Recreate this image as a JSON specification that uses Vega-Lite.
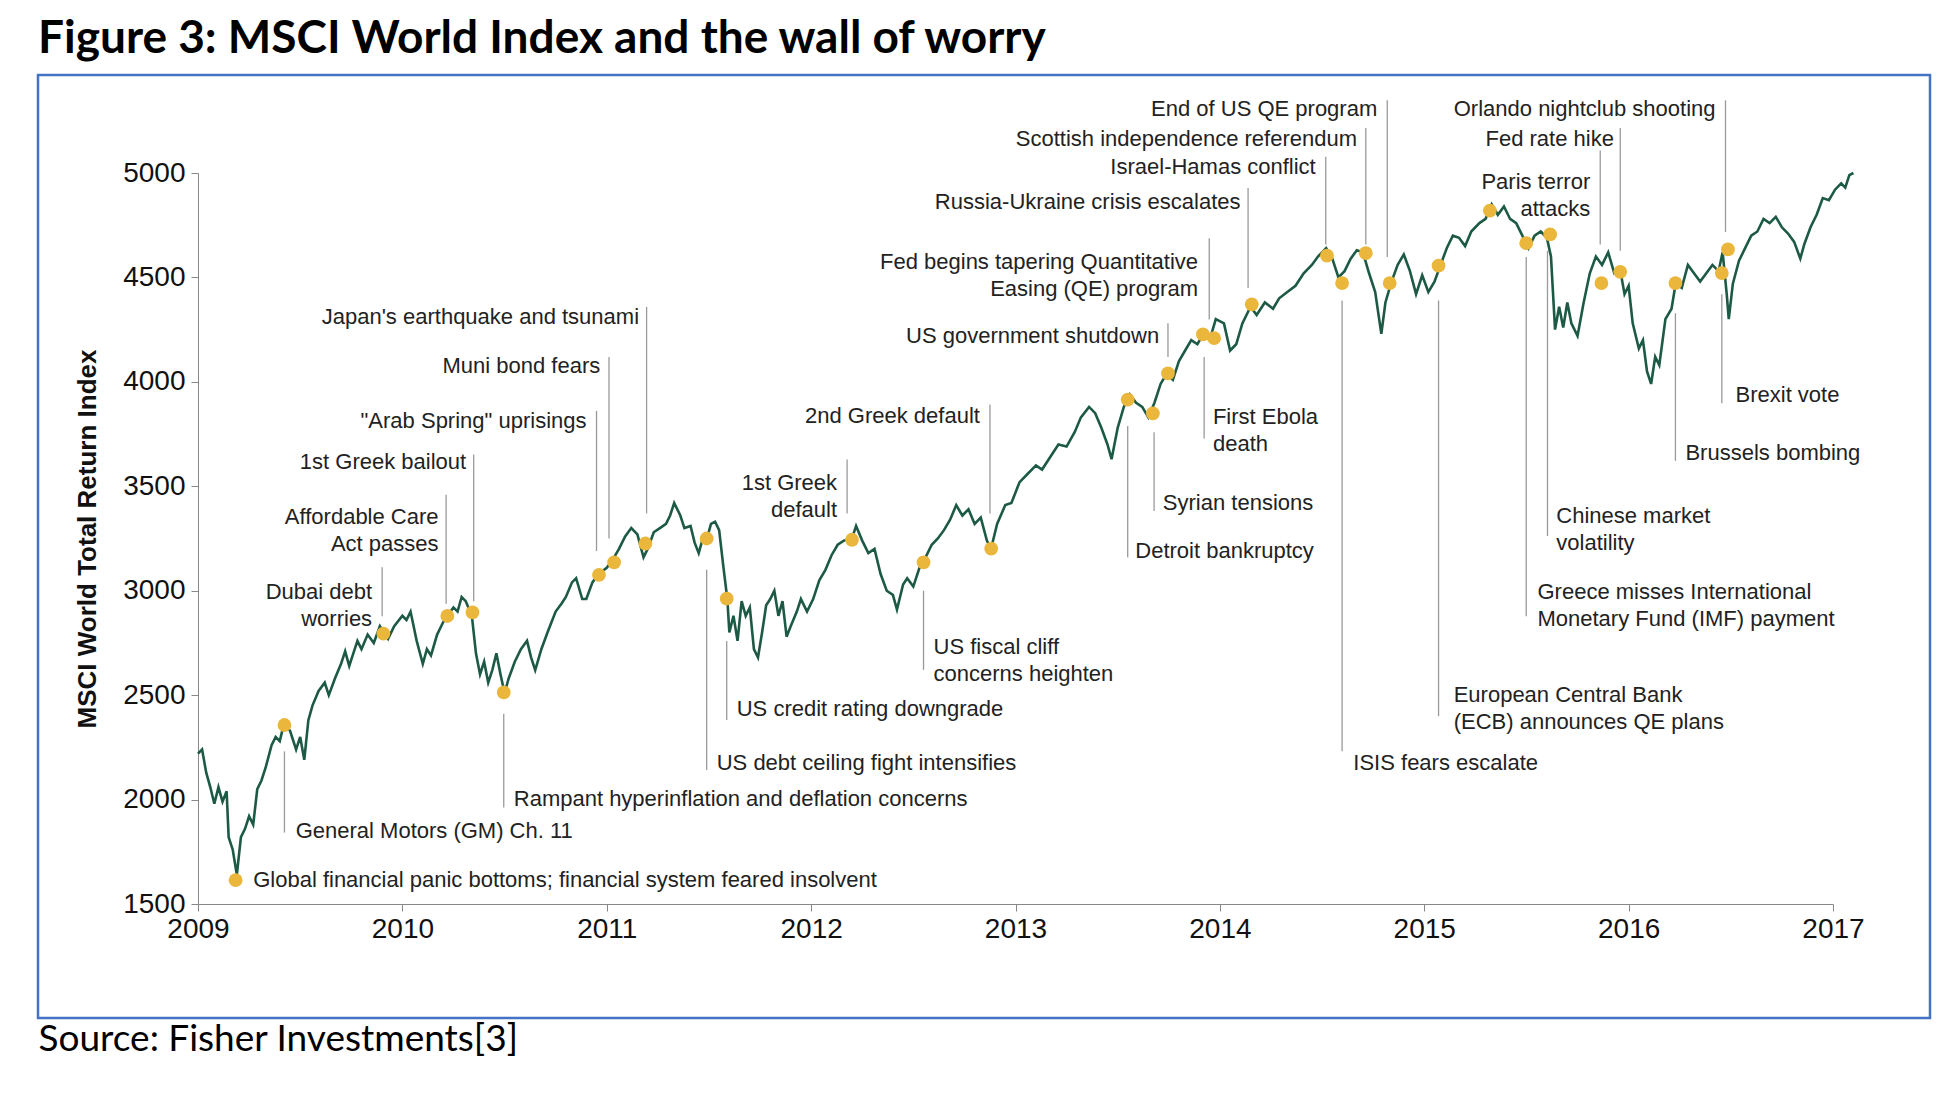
{
  "$schema": "https://vega.github.io/schema/vega-lite/v6.json",
  "width": 1892,
  "height": 943,
  "autosize": "none",
  "padding": {"left": 38, "top": 75, "right": 24, "bottom": 81},
  "background": "white",
  "title": {
    "text": "Figure 3: MSCI World Index and the wall of worry",
    "anchor": "start",
    "frame": "group",
    "offset": 12,
    "font": "Lato",
    "fontSize": 46,
    "fontWeight": "bold",
    "color": "#000000"
  },
  "config": {
    "view": {"stroke": "#4472c4", "strokeWidth": 2.5},
    "axis": {"grid": false, "domainColor": "#888888", "tickColor": "#888888", "labelFont": "Liberation Sans", "labelFontSize": 28, "labelColor": "#111111", "labelFlush": false}
  },
  "datasets": {
    "index": [
      {"t": 2009.00, "v": 2220}, {"t": 2009.02, "v": 2240}, {"t": 2009.04, "v": 2130}, {"t": 2009.06, "v": 2060}, {"t": 2009.08, "v": 1980}, {"t": 2009.10, "v": 2060},
      {"t": 2009.12, "v": 1990}, {"t": 2009.14, "v": 2040}, {"t": 2009.15, "v": 1820}, {"t": 2009.17, "v": 1760}, {"t": 2009.19, "v": 1640}, {"t": 2009.21, "v": 1820},
      {"t": 2009.23, "v": 1860}, {"t": 2009.25, "v": 1920}, {"t": 2009.27, "v": 1880}, {"t": 2009.29, "v": 2050}, {"t": 2009.31, "v": 2090}, {"t": 2009.33, "v": 2150},
      {"t": 2009.36, "v": 2260}, {"t": 2009.38, "v": 2300}, {"t": 2009.40, "v": 2280}, {"t": 2009.42, "v": 2360}, {"t": 2009.45, "v": 2330}, {"t": 2009.48, "v": 2240},
      {"t": 2009.50, "v": 2300}, {"t": 2009.52, "v": 2190}, {"t": 2009.54, "v": 2380}, {"t": 2009.56, "v": 2450}, {"t": 2009.59, "v": 2520}, {"t": 2009.62, "v": 2560},
      {"t": 2009.64, "v": 2500}, {"t": 2009.67, "v": 2580}, {"t": 2009.70, "v": 2650}, {"t": 2009.72, "v": 2710}, {"t": 2009.74, "v": 2640}, {"t": 2009.76, "v": 2700},
      {"t": 2009.78, "v": 2760}, {"t": 2009.80, "v": 2720}, {"t": 2009.83, "v": 2790}, {"t": 2009.86, "v": 2750}, {"t": 2009.89, "v": 2830}, {"t": 2009.91, "v": 2800},
      {"t": 2009.93, "v": 2770}, {"t": 2009.96, "v": 2830}, {"t": 2010.00, "v": 2880}, {"t": 2010.02, "v": 2860}, {"t": 2010.04, "v": 2900}, {"t": 2010.07, "v": 2760},
      {"t": 2010.10, "v": 2650}, {"t": 2010.12, "v": 2720}, {"t": 2010.14, "v": 2690}, {"t": 2010.17, "v": 2790}, {"t": 2010.20, "v": 2850}, {"t": 2010.22, "v": 2880},
      {"t": 2010.25, "v": 2920}, {"t": 2010.27, "v": 2900}, {"t": 2010.29, "v": 2970}, {"t": 2010.31, "v": 2950}, {"t": 2010.34, "v": 2880}, {"t": 2010.36, "v": 2700},
      {"t": 2010.38, "v": 2600}, {"t": 2010.40, "v": 2660}, {"t": 2010.42, "v": 2560}, {"t": 2010.44, "v": 2620}, {"t": 2010.46, "v": 2700}, {"t": 2010.48, "v": 2600},
      {"t": 2010.50, "v": 2510}, {"t": 2010.52, "v": 2580}, {"t": 2010.55, "v": 2660}, {"t": 2010.58, "v": 2720}, {"t": 2010.61, "v": 2760}, {"t": 2010.63, "v": 2680},
      {"t": 2010.65, "v": 2620}, {"t": 2010.68, "v": 2720}, {"t": 2010.71, "v": 2800}, {"t": 2010.73, "v": 2850}, {"t": 2010.75, "v": 2900}, {"t": 2010.78, "v": 2940},
      {"t": 2010.80, "v": 2970}, {"t": 2010.83, "v": 3040}, {"t": 2010.85, "v": 3060}, {"t": 2010.88, "v": 2960}, {"t": 2010.90, "v": 2960}, {"t": 2010.93, "v": 3040},
      {"t": 2010.96, "v": 3080}, {"t": 2011.00, "v": 3110}, {"t": 2011.03, "v": 3150}, {"t": 2011.06, "v": 3200}, {"t": 2011.09, "v": 3260}, {"t": 2011.12, "v": 3300},
      {"t": 2011.15, "v": 3270}, {"t": 2011.18, "v": 3160}, {"t": 2011.20, "v": 3200}, {"t": 2011.23, "v": 3280}, {"t": 2011.26, "v": 3300}, {"t": 2011.29, "v": 3320},
      {"t": 2011.31, "v": 3360}, {"t": 2011.33, "v": 3420}, {"t": 2011.36, "v": 3360}, {"t": 2011.38, "v": 3300}, {"t": 2011.41, "v": 3310}, {"t": 2011.43, "v": 3230},
      {"t": 2011.45, "v": 3180}, {"t": 2011.47, "v": 3250}, {"t": 2011.49, "v": 3250}, {"t": 2011.51, "v": 3320}, {"t": 2011.53, "v": 3330}, {"t": 2011.55, "v": 3290},
      {"t": 2011.57, "v": 3120}, {"t": 2011.59, "v": 2960}, {"t": 2011.60, "v": 2800}, {"t": 2011.62, "v": 2880}, {"t": 2011.64, "v": 2760}, {"t": 2011.66, "v": 2950},
      {"t": 2011.68, "v": 2880}, {"t": 2011.70, "v": 2920}, {"t": 2011.72, "v": 2720}, {"t": 2011.74, "v": 2680}, {"t": 2011.76, "v": 2800}, {"t": 2011.78, "v": 2930},
      {"t": 2011.80, "v": 2960}, {"t": 2011.82, "v": 3000}, {"t": 2011.84, "v": 2880}, {"t": 2011.86, "v": 2950}, {"t": 2011.88, "v": 2780}, {"t": 2011.90, "v": 2830},
      {"t": 2011.93, "v": 2900}, {"t": 2011.95, "v": 2960}, {"t": 2011.98, "v": 2900}, {"t": 2012.01, "v": 2960}, {"t": 2012.04, "v": 3050}, {"t": 2012.07, "v": 3100},
      {"t": 2012.10, "v": 3170}, {"t": 2012.13, "v": 3220}, {"t": 2012.16, "v": 3240}, {"t": 2012.20, "v": 3250}, {"t": 2012.22, "v": 3310}, {"t": 2012.25, "v": 3240},
      {"t": 2012.28, "v": 3180}, {"t": 2012.31, "v": 3200}, {"t": 2012.34, "v": 3080}, {"t": 2012.37, "v": 3000}, {"t": 2012.40, "v": 2980}, {"t": 2012.42, "v": 2910},
      {"t": 2012.45, "v": 3030}, {"t": 2012.47, "v": 3060}, {"t": 2012.50, "v": 3020}, {"t": 2012.53, "v": 3110}, {"t": 2012.56, "v": 3160}, {"t": 2012.59, "v": 3220},
      {"t": 2012.62, "v": 3250}, {"t": 2012.65, "v": 3290}, {"t": 2012.68, "v": 3340}, {"t": 2012.71, "v": 3410}, {"t": 2012.74, "v": 3360}, {"t": 2012.77, "v": 3390},
      {"t": 2012.80, "v": 3320}, {"t": 2012.83, "v": 3350}, {"t": 2012.86, "v": 3240}, {"t": 2012.88, "v": 3200}, {"t": 2012.91, "v": 3320}, {"t": 2012.95, "v": 3410},
      {"t": 2012.98, "v": 3420}, {"t": 2013.02, "v": 3520}, {"t": 2013.06, "v": 3560}, {"t": 2013.10, "v": 3600}, {"t": 2013.13, "v": 3580}, {"t": 2013.17, "v": 3640},
      {"t": 2013.21, "v": 3700}, {"t": 2013.25, "v": 3690}, {"t": 2013.29, "v": 3760}, {"t": 2013.32, "v": 3830}, {"t": 2013.36, "v": 3880}, {"t": 2013.39, "v": 3850},
      {"t": 2013.42, "v": 3780}, {"t": 2013.45, "v": 3700}, {"t": 2013.47, "v": 3630}, {"t": 2013.50, "v": 3780}, {"t": 2013.53, "v": 3880}, {"t": 2013.56, "v": 3940},
      {"t": 2013.59, "v": 3900}, {"t": 2013.62, "v": 3880}, {"t": 2013.65, "v": 3830}, {"t": 2013.68, "v": 3900}, {"t": 2013.71, "v": 3990}, {"t": 2013.74, "v": 4040},
      {"t": 2013.77, "v": 4010}, {"t": 2013.80, "v": 4100}, {"t": 2013.83, "v": 4150}, {"t": 2013.86, "v": 4200}, {"t": 2013.89, "v": 4180}, {"t": 2013.92, "v": 4230},
      {"t": 2013.95, "v": 4200}, {"t": 2013.98, "v": 4300}, {"t": 2014.02, "v": 4280}, {"t": 2014.05, "v": 4150}, {"t": 2014.08, "v": 4180}, {"t": 2014.11, "v": 4280},
      {"t": 2014.15, "v": 4360}, {"t": 2014.18, "v": 4320}, {"t": 2014.22, "v": 4380}, {"t": 2014.26, "v": 4350}, {"t": 2014.29, "v": 4400}, {"t": 2014.33, "v": 4430},
      {"t": 2014.37, "v": 4460}, {"t": 2014.41, "v": 4520}, {"t": 2014.45, "v": 4560}, {"t": 2014.48, "v": 4600}, {"t": 2014.52, "v": 4640}, {"t": 2014.55, "v": 4590},
      {"t": 2014.58, "v": 4500}, {"t": 2014.61, "v": 4530}, {"t": 2014.64, "v": 4590}, {"t": 2014.67, "v": 4630}, {"t": 2014.70, "v": 4620}, {"t": 2014.73, "v": 4520},
      {"t": 2014.76, "v": 4430}, {"t": 2014.79, "v": 4230}, {"t": 2014.81, "v": 4380}, {"t": 2014.84, "v": 4480}, {"t": 2014.87, "v": 4560}, {"t": 2014.90, "v": 4610},
      {"t": 2014.93, "v": 4530}, {"t": 2014.96, "v": 4420}, {"t": 2014.99, "v": 4510}, {"t": 2015.02, "v": 4430}, {"t": 2015.05, "v": 4480}, {"t": 2015.08, "v": 4560},
      {"t": 2015.11, "v": 4640}, {"t": 2015.14, "v": 4700}, {"t": 2015.17, "v": 4690}, {"t": 2015.20, "v": 4650}, {"t": 2015.23, "v": 4720}, {"t": 2015.27, "v": 4760},
      {"t": 2015.30, "v": 4780}, {"t": 2015.33, "v": 4850}, {"t": 2015.36, "v": 4800}, {"t": 2015.39, "v": 4840}, {"t": 2015.42, "v": 4780}, {"t": 2015.45, "v": 4760},
      {"t": 2015.48, "v": 4700}, {"t": 2015.51, "v": 4640}, {"t": 2015.54, "v": 4700}, {"t": 2015.57, "v": 4720}, {"t": 2015.60, "v": 4690}, {"t": 2015.62, "v": 4600},
      {"t": 2015.64, "v": 4250}, {"t": 2015.66, "v": 4360}, {"t": 2015.68, "v": 4260}, {"t": 2015.70, "v": 4380}, {"t": 2015.72, "v": 4280}, {"t": 2015.75, "v": 4220},
      {"t": 2015.78, "v": 4380}, {"t": 2015.81, "v": 4520}, {"t": 2015.84, "v": 4600}, {"t": 2015.87, "v": 4560}, {"t": 2015.90, "v": 4620}, {"t": 2015.93, "v": 4520},
      {"t": 2015.96, "v": 4530}, {"t": 2015.98, "v": 4420}, {"t": 2016.00, "v": 4460}, {"t": 2016.02, "v": 4280}, {"t": 2016.05, "v": 4160}, {"t": 2016.07, "v": 4200},
      {"t": 2016.09, "v": 4050}, {"t": 2016.11, "v": 3990}, {"t": 2016.13, "v": 4120}, {"t": 2016.15, "v": 4080}, {"t": 2016.18, "v": 4300}, {"t": 2016.21, "v": 4350},
      {"t": 2016.23, "v": 4470}, {"t": 2016.26, "v": 4450}, {"t": 2016.29, "v": 4560}, {"t": 2016.32, "v": 4520}, {"t": 2016.35, "v": 4480}, {"t": 2016.38, "v": 4520},
      {"t": 2016.41, "v": 4560}, {"t": 2016.44, "v": 4530}, {"t": 2016.46, "v": 4620}, {"t": 2016.48, "v": 4420}, {"t": 2016.49, "v": 4300}, {"t": 2016.51, "v": 4470},
      {"t": 2016.54, "v": 4580}, {"t": 2016.57, "v": 4640}, {"t": 2016.60, "v": 4700}, {"t": 2016.63, "v": 4720}, {"t": 2016.66, "v": 4780}, {"t": 2016.69, "v": 4760},
      {"t": 2016.72, "v": 4790}, {"t": 2016.75, "v": 4740}, {"t": 2016.78, "v": 4710}, {"t": 2016.81, "v": 4670}, {"t": 2016.84, "v": 4590}, {"t": 2016.86, "v": 4660},
      {"t": 2016.89, "v": 4740}, {"t": 2016.92, "v": 4800}, {"t": 2016.95, "v": 4880}, {"t": 2016.98, "v": 4870}, {"t": 2017.01, "v": 4920}, {"t": 2017.04, "v": 4950},
      {"t": 2017.06, "v": 4930}, {"t": 2017.08, "v": 4990}, {"t": 2017.10, "v": 5000}
    ],
    "events": [
      {"label": "Global financial panic bottoms; financial system feared insolvent", "t": 2009.184, "v": 1614, "lx": null, "ly1": null, "ly2": null, "tx": 2009.270, "ty": 1614, "side": "left"},
      {"label": "General Motors (GM) Ch. 11", "t": 2009.423, "v": 2357, "lx": 2009.423, "ly1": 2231, "ly2": 1842, "tx": 2009.478, "ty": 1848, "side": "left"},
      {"label": "Dubai debt\nworries", "t": 2009.907, "v": 2795, "lx": 2009.901, "ly1": 3112, "ly2": 2878, "tx": 2009.852, "ty": 2995, "side": "right"},
      {"label": "Affordable Care\nAct passes", "t": 2010.220, "v": 2879, "lx": 2010.214, "ly1": 3460, "ly2": 2938, "tx": 2010.177, "ty": 3352, "side": "right"},
      {"label": "1st Greek bailout", "t": 2010.343, "v": 2896, "lx": 2010.349, "ly1": 3652, "ly2": 2950, "tx": 2010.312, "ty": 3616, "side": "right"},
      {"label": "Rampant hyperinflation and deflation concerns", "t": 2010.496, "v": 2513, "lx": 2010.496, "ly1": 2411, "ly2": 1962, "tx": 2010.545, "ty": 2003, "side": "left"},
      {"label": "\"Arab Spring\" uprisings", "t": 2010.962, "v": 3076, "lx": 2010.950, "ly1": 3861, "ly2": 3190, "tx": 2010.901, "ty": 3813, "side": "right"},
      {"label": "Muni bond fears", "t": 2011.036, "v": 3136, "lx": 2011.011, "ly1": 4119, "ly2": 3250, "tx": 2010.968, "ty": 4077, "side": "right"},
      {"label": "Japan's earthquake and tsunami", "t": 2011.189, "v": 3226, "lx": 2011.195, "ly1": 4359, "ly2": 3370, "tx": 2011.158, "ty": 4311, "side": "right"},
      {"label": "US debt ceiling fight intensifies", "t": 2011.489, "v": 3250, "lx": 2011.489, "ly1": 3100, "ly2": 2141, "tx": 2011.538, "ty": 2177, "side": "left"},
      {"label": "US credit rating downgrade", "t": 2011.587, "v": 2962, "lx": 2011.587, "ly1": 2759, "ly2": 2381, "tx": 2011.636, "ty": 2435, "side": "left"},
      {"label": "1st Greek\ndefault", "t": 2012.200, "v": 3244, "lx": 2012.176, "ly1": 3628, "ly2": 3370, "tx": 2012.127, "ty": 3514, "side": "right"},
      {"label": "US fiscal cliff\nconcerns heighten", "t": 2012.550, "v": 3136, "lx": 2012.550, "ly1": 3000, "ly2": 2621, "tx": 2012.599, "ty": 2729, "side": "left"},
      {"label": "2nd Greek default", "t": 2012.881, "v": 3202, "lx": 2012.875, "ly1": 3891, "ly2": 3370, "tx": 2012.826, "ty": 3837, "side": "right"},
      {"label": "Detroit bankruptcy", "t": 2013.549, "v": 3915, "lx": 2013.549, "ly1": 3789, "ly2": 3160, "tx": 2013.586, "ty": 3190, "side": "left"},
      {"label": "Syrian tensions", "t": 2013.672, "v": 3849, "lx": 2013.678, "ly1": 3759, "ly2": 3382, "tx": 2013.721, "ty": 3418, "side": "left"},
      {"label": "US government shutdown", "t": 2013.746, "v": 4041, "lx": 2013.746, "ly1": 4281, "ly2": 4119, "tx": 2013.703, "ty": 4221, "side": "right"},
      {"label": "Fed begins tapering Quantitative\nEasing (QE) program", "t": 2013.917, "v": 4227, "lx": 2013.948, "ly1": 4688, "ly2": 4299, "tx": 2013.893, "ty": 4572, "side": "right"},
      {"label": "First Ebola\ndeath", "t": 2013.972, "v": 4209, "lx": 2013.923, "ly1": 4119, "ly2": 3729, "tx": 2013.966, "ty": 3834, "side": "left"},
      {"label": "Russia-Ukraine crisis escalates", "t": 2014.156, "v": 4371, "lx": 2014.138, "ly1": 4928, "ly2": 4449, "tx": 2014.101, "ty": 4862, "side": "right"},
      {"label": "Israel-Hamas conflict", "t": 2014.524, "v": 4604, "lx": 2014.518, "ly1": 5078, "ly2": 4658, "tx": 2014.469, "ty": 5030, "side": "right"},
      {"label": "ISIS fears escalate", "t": 2014.598, "v": 4473, "lx": 2014.598, "ly1": 4389, "ly2": 2231, "tx": 2014.653, "ty": 2177, "side": "left"},
      {"label": "Scottish independence referendum", "t": 2014.714, "v": 4616, "lx": 2014.714, "ly1": 5216, "ly2": 4658, "tx": 2014.671, "ty": 5162, "side": "right"},
      {"label": "End of US QE program", "t": 2014.831, "v": 4473, "lx": 2014.819, "ly1": 5348, "ly2": 4598, "tx": 2014.770, "ty": 5306, "side": "right"},
      {"label": "European Central Bank\n(ECB) announces QE plans", "t": 2015.070, "v": 4557, "lx": 2015.070, "ly1": 4389, "ly2": 2399, "tx": 2015.144, "ty": 2501, "side": "left"},
      {"label": "", "t": 2015.321, "v": 4820, "lx": null, "ly1": null, "ly2": null, "tx": null, "ty": null, "side": "none"},
      {"label": "Greece misses International\nMonetary Fund (IMF) payment", "t": 2015.499, "v": 4664, "lx": 2015.499, "ly1": 4598, "ly2": 2878, "tx": 2015.554, "ty": 2992, "side": "left"},
      {"label": "Chinese market\nvolatility", "t": 2015.616, "v": 4706, "lx": 2015.603, "ly1": 4628, "ly2": 3262, "tx": 2015.646, "ty": 3358, "side": "left"},
      {"label": "Paris terror\nattacks", "t": 2015.867, "v": 4473, "lx": 2015.861, "ly1": 5108, "ly2": 4658, "tx": 2015.812, "ty": 4958, "side": "right"},
      {"label": "Fed rate hike", "t": 2015.959, "v": 4527, "lx": 2015.959, "ly1": 5216, "ly2": 4628, "tx": 2015.928, "ty": 5162, "side": "right"},
      {"label": "Brussels bombing", "t": 2016.229, "v": 4473, "lx": 2016.229, "ly1": 4329, "ly2": 3622, "tx": 2016.278, "ty": 3658, "side": "left"},
      {"label": "Brexit vote", "t": 2016.456, "v": 4521, "lx": 2016.456, "ly1": 4419, "ly2": 3897, "tx": 2016.523, "ty": 3939, "side": "left"},
      {"label": "Orlando nightclub shooting", "t": 2016.486, "v": 4634, "lx": 2016.474, "ly1": 5348, "ly2": 4718, "tx": 2016.425, "ty": 5306, "side": "right"}
    ]
  },
  "encoding": {
    "x": {
      "field": "t",
      "type": "quantitative",
      "scale": {"domain": [2009, 2017], "range": [160, 1795], "nice": false, "zero": false},
      "axis": {
        "values": [2009, 2010, 2011, 2012, 2013, 2014, 2015, 2016, 2017],
        "format": "d",
        "offset": -114,
        "tickSize": 7,
        "labelPadding": 4,
        "title": "Source: Fisher Investments[3]",
        "titleFont": "Lato",
        "titleFontSize": 37,
        "titleFontWeight": "normal",
        "titleColor": "#000000",
        "titleX": 0,
        "titleY": 146,
        "titleAlign": "left",
        "titleAnchor": "start",
        "titleBaseline": "alphabetic"
      }
    },
    "y": {
      "field": "v",
      "type": "quantitative",
      "scale": {"domain": [1500, 5000], "range": [829, 98], "nice": false, "zero": false},
      "axis": {
        "values": [1500, 2000, 2500, 3000, 3500, 4000, 4500, 5000],
        "format": "d",
        "offset": -160,
        "tickSize": 7,
        "labelPadding": 6,
        "title": "MSCI World Total Return Index",
        "titleFont": "Liberation Sans",
        "titleFontSize": 26,
        "titleFontWeight": "bold",
        "titleColor": "#111111",
        "titlePadding": 22
      }
    }
  },
  "layer": [
    {
      "data": {"name": "events"},
      "transform": [{"filter": "datum.lx != null"}],
      "mark": {"type": "rule", "color": "#9a9a9a", "strokeWidth": 1.3},
      "encoding": {
        "x": {"field": "lx", "type": "quantitative"},
        "y": {"field": "ly1", "type": "quantitative"},
        "y2": {"field": "ly2"}
      }
    },
    {
      "data": {"name": "index"},
      "mark": {"type": "line", "color": "#1d5a45", "strokeWidth": 2.6, "clip": false},
      "encoding": {}
    },
    {
      "data": {"name": "events"},
      "mark": {"type": "circle", "color": "#eab73c", "opacity": 1, "size": 190},
      "encoding": {}
    },
    {
      "data": {"name": "events"},
      "transform": [{"filter": "datum.side == 'left'"}],
      "mark": {"type": "text", "align": "left", "baseline": "middle", "font": "Liberation Sans", "fontSize": 22, "lineHeight": 27, "lineBreak": "\n", "color": "#222222"},
      "encoding": {
        "x": {"field": "tx", "type": "quantitative"},
        "y": {"field": "ty", "type": "quantitative"},
        "text": {"field": "label"}
      }
    },
    {
      "data": {"name": "events"},
      "transform": [{"filter": "datum.side == 'right'"}],
      "mark": {"type": "text", "align": "right", "baseline": "middle", "font": "Liberation Sans", "fontSize": 22, "lineHeight": 27, "lineBreak": "\n", "color": "#222222"},
      "encoding": {
        "x": {"field": "tx", "type": "quantitative"},
        "y": {"field": "ty", "type": "quantitative"},
        "text": {"field": "label"}
      }
    }
  ]
}
